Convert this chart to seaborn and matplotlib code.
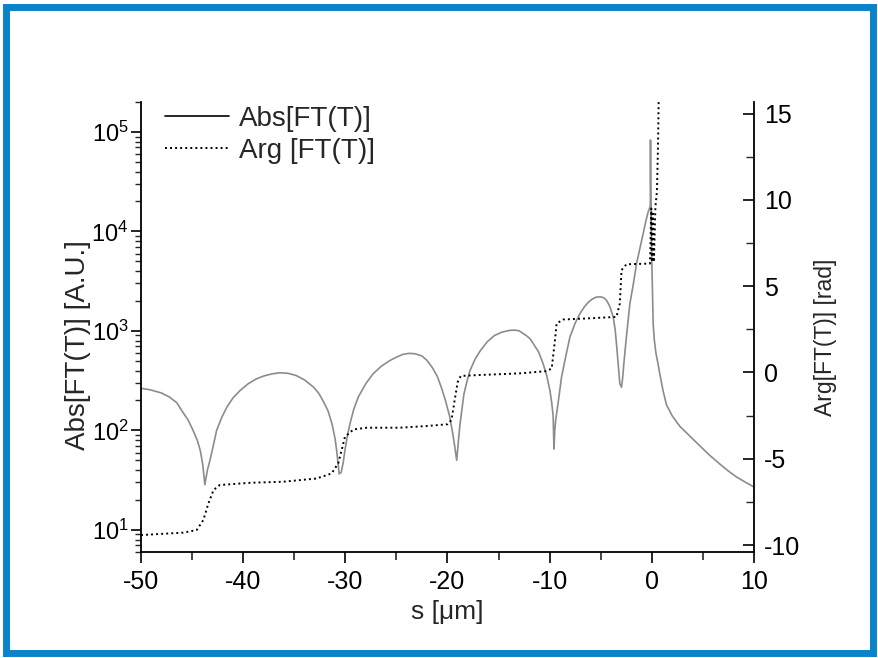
import matplotlib
matplotlib.use("Agg")
import matplotlib.pyplot as plt
import numpy as np
import pandas as pd
import seaborn as sns
from matplotlib.lines import Line2D
from matplotlib.patches import Rectangle
from matplotlib.ticker import FixedLocator, LogLocator, MultipleLocator, NullFormatter

# Modulus of the Fourier transform, s in micrometres
s_abs = [-50.0, -49.1, -48.0, -47.2, -46.5, -45.9, -45.4, -44.9, -44.5, -44.2,
         -43.95, -43.75, -43.5, -43.25, -42.9, -42.6, -42.1, -41.6, -41.0, -40.3,
         -39.5, -38.7, -38.0, -37.2, -36.4, -35.6, -34.8, -34.0, -33.1, -32.6,
         -32.2, -31.7, -31.3, -31.0, -30.85, -30.6, -30.4, -30.2, -30.04, -29.8,
         -29.55, -29.2, -28.74, -28.0, -27.27, -26.5, -25.7, -25.0, -24.4, -23.8,
         -23.2, -22.5, -22.0, -21.5, -21.0, -20.6, -20.2, -19.8, -19.5, -19.3,
         -19.1, -18.95, -18.8, -18.6, -18.4, -18.1, -17.8, -17.3, -16.8, -16.1,
         -15.4, -14.7, -14.0, -13.5, -13.0, -12.3, -11.9, -11.6, -11.1, -10.64,
         -10.3, -9.98, -9.8, -9.66, -9.58, -9.5, -9.4, -9.17, -8.84, -8.4,
         -8.02, -7.5, -7.04, -6.6, -6.2, -5.8, -5.41, -5.0, -4.7, -4.43,
         -4.1, -3.78, -3.6, -3.46, -3.3, -3.13, -2.97, -2.85, -2.74, -2.5,
         -2.15, -1.8, -1.5, -1.2, -0.85, -0.6, -0.36, -0.15, -0.13, -0.11,
         0.0, 0.13, 0.25, 0.4, 0.6, 0.78, 1.1, 1.44, 2.0, 2.74,
         3.7, 4.7, 5.6, 6.65, 7.5, 8.3, 9.2, 10.0]
abs_ft = [265, 256, 238, 216, 190, 152, 128, 100, 80, 63,
          45, 28.5, 40, 50, 72, 100, 135, 171, 212, 252,
          295, 330, 352, 370, 380, 375, 356, 322, 272, 236,
          200, 158, 116, 82, 63, 36.5, 38, 48, 63, 88,
          116, 160, 216, 295, 372, 440, 500, 545, 580, 595,
          590, 560, 505, 430, 350, 270, 200, 140, 95, 70,
          50, 75, 110, 160, 230, 310, 400, 520, 630, 780,
          900, 970, 1010, 1020, 1005, 900, 830, 743, 620, 468,
          360, 253, 190, 140, 65, 100, 130, 190, 343, 570,
          867, 1200, 1490, 1750, 1950, 2100, 2190, 2200, 2150, 2030,
          1750, 1377, 1050, 743, 480, 294, 272, 340, 468, 850,
          1880, 3000, 4740, 6500, 9500, 12500, 15700, 18000, 83000, 30000,
          5000, 1180, 800, 600, 470, 370, 250, 180, 140, 110,
          88, 70, 57, 46, 39, 34, 30, 27]

# Phase of the Fourier transform (rad)
s_arg = [-50.0, -48.0, -45.9, -44.55, -43.9, -43.4, -42.9, -42.3, -39.3, -36.1,
         -32.8, -31.35, -30.7, -30.36, -30.04, -29.2, -27.9, -24.66, -22.0, -20.0,
         -19.6, -19.3, -19.0, -18.7, -17.0, -12.9, -10.3, -9.8, -9.48, -9.32,
         -8.67, -6.39, -3.46, -3.13, -2.97, -2.48, -0.18, -0.05, 0.0, 0.1,
         0.2, 0.35, 0.5, 0.6, 0.7]
arg_ft = [-9.42, -9.35, -9.28, -9.13, -8.55, -7.58, -6.81, -6.52, -6.39, -6.33,
          -6.14, -5.85, -5.27, -4.5, -3.73, -3.3, -3.2, -3.2, -3.1, -3.0,
          -2.75, -1.6, -0.55, -0.2, -0.15, -0.05, 0.08, 0.23, 1.87, 2.84,
          3.07, 3.13, 3.22, 4.0, 5.93, 6.27, 6.31, 9.5, 6.4, 9.2,
          6.4, 9.6, 10.5, 13.0, 17.0]

x_ticks = [-50, -40, -30, -20, -10, 0, 10]
left_ticks = [1e1, 1e2, 1e3, 1e4, 1e5]
right_ticks = [-10, -5, 0, 5, 10, 15]
legend_labels = ["Abs[FT(T)]", "Arg [FT(T)]"]

df_abs = pd.DataFrame({"s": s_abs, "abs": abs_ft})
df_arg = pd.DataFrame({"s": s_arg, "arg": arg_ft})

sns.set_style("ticks")
plt.rcParams["font.family"] = ["Liberation Sans", "DejaVu Sans"]
plt.rcParams["mathtext.fontset"] = "custom"
plt.rcParams["mathtext.rm"] = "Liberation Sans"
plt.rcParams["mathtext.it"] = "Liberation Sans:italic"
plt.rcParams["mathtext.bf"] = "Liberation Sans:bold"
plt.rcParams["axes.unicode_minus"] = False

W, H = 879, 658
fig = plt.figure(figsize=(W / 100, H / 100), dpi=100)
L, R, T, B = 141, 754, 102, 552
ax = fig.add_axes([L / W, 1 - B / H, (R - L) / W, (B - T) / H])
ax.set_facecolor("white")

sns.lineplot(data=df_abs, x="s", y="abs", ax=ax, color="#8c8c8c", lw=1.2,
             sort=False, estimator=None)
ax.set_yscale("log")
ax.set_xlim(-50, 10)
ax.set_ylim(6, 2e5)

ax2 = ax.twinx()
sns.lineplot(data=df_arg, x="s", y="arg", ax=ax2, color="black", lw=1.4,
             sort=False, estimator=None)
ax2.lines[0].set_linestyle((0, (1, 1.6)))
ax2.set_ylim(-10.4, 15.67)

# axes styling
for a in (ax, ax2):
    a.spines["top"].set_visible(False)
    for sp in ("left", "right", "bottom"):
        a.spines[sp].set_linewidth(1.3)
        a.spines[sp].set_color("black")
ax.spines["right"].set_visible(False)
ax2.spines["left"].set_visible(False)
ax2.spines["bottom"].set_visible(False)

ax.xaxis.set_major_locator(FixedLocator(x_ticks))
ax.xaxis.set_minor_locator(MultipleLocator(5))
ax.yaxis.set_major_locator(FixedLocator(left_ticks))
ax.yaxis.set_minor_locator(LogLocator(base=10, subs=np.arange(2, 10)))
ax.yaxis.set_minor_formatter(NullFormatter())
ax2.yaxis.set_major_locator(FixedLocator(right_ticks))
ax2.yaxis.set_minor_locator(MultipleLocator(2.5))

ax.tick_params(axis="x", which="major", direction="out", length=8, width=1.2,
               labelsize=18, pad=5, colors="black")
ax.tick_params(axis="x", which="minor", direction="out", length=6, width=1.2)
ax.tick_params(axis="y", which="major", direction="out", length=7, width=1.2,
               labelsize=17, pad=2, colors="black")
ax.tick_params(axis="y", which="minor", direction="out", length=4, width=1.0)
ax2.tick_params(axis="y", which="major", direction="in", length=8, width=1.2,
                labelsize=18, pad=7, colors="black")
ax2.tick_params(axis="y", which="minor", direction="in", length=6, width=1.0)

ax.set_xlabel("s [μm]", fontsize=19)
ax.xaxis.set_label_coords(0.499, -0.133)
ax.xaxis.label.set_verticalalignment("center")
ax.set_ylabel("Abs[FT(T)] [A.U.]", fontsize=20)
ax.yaxis.set_label_coords(-0.103, 0.46)
ax.yaxis.label.set_verticalalignment("center")
ax2.set_ylabel("Arg[FT(T)] [rad]", fontsize=16.5)
ax2.yaxis.set_label_coords(1.117, 0.478)
ax2.yaxis.label.set_verticalalignment("center")

handles = [Line2D([], [], color="black", lw=1.2),
           Line2D([], [], color="black", lw=1.4, linestyle=(0, (1, 1.6)))]
ax2.legend(handles, legend_labels, loc="upper left",
           bbox_to_anchor=(165 / W, 1 - 106 / H), bbox_transform=fig.transFigure,
           frameon=False, fontsize=20, handlelength=2.3, handletextpad=0.35,
           labelspacing=0.2, borderpad=0, borderaxespad=0)

# blue frame around the figure
fig.patches.append(Rectangle((6.5 / W, 5 / H), 867 / W, 646 / H,
                             transform=fig.transFigure, fill=False,
                             edgecolor="#0a84c9", lw=5))

fig.savefig("out.png", dpi=100)
